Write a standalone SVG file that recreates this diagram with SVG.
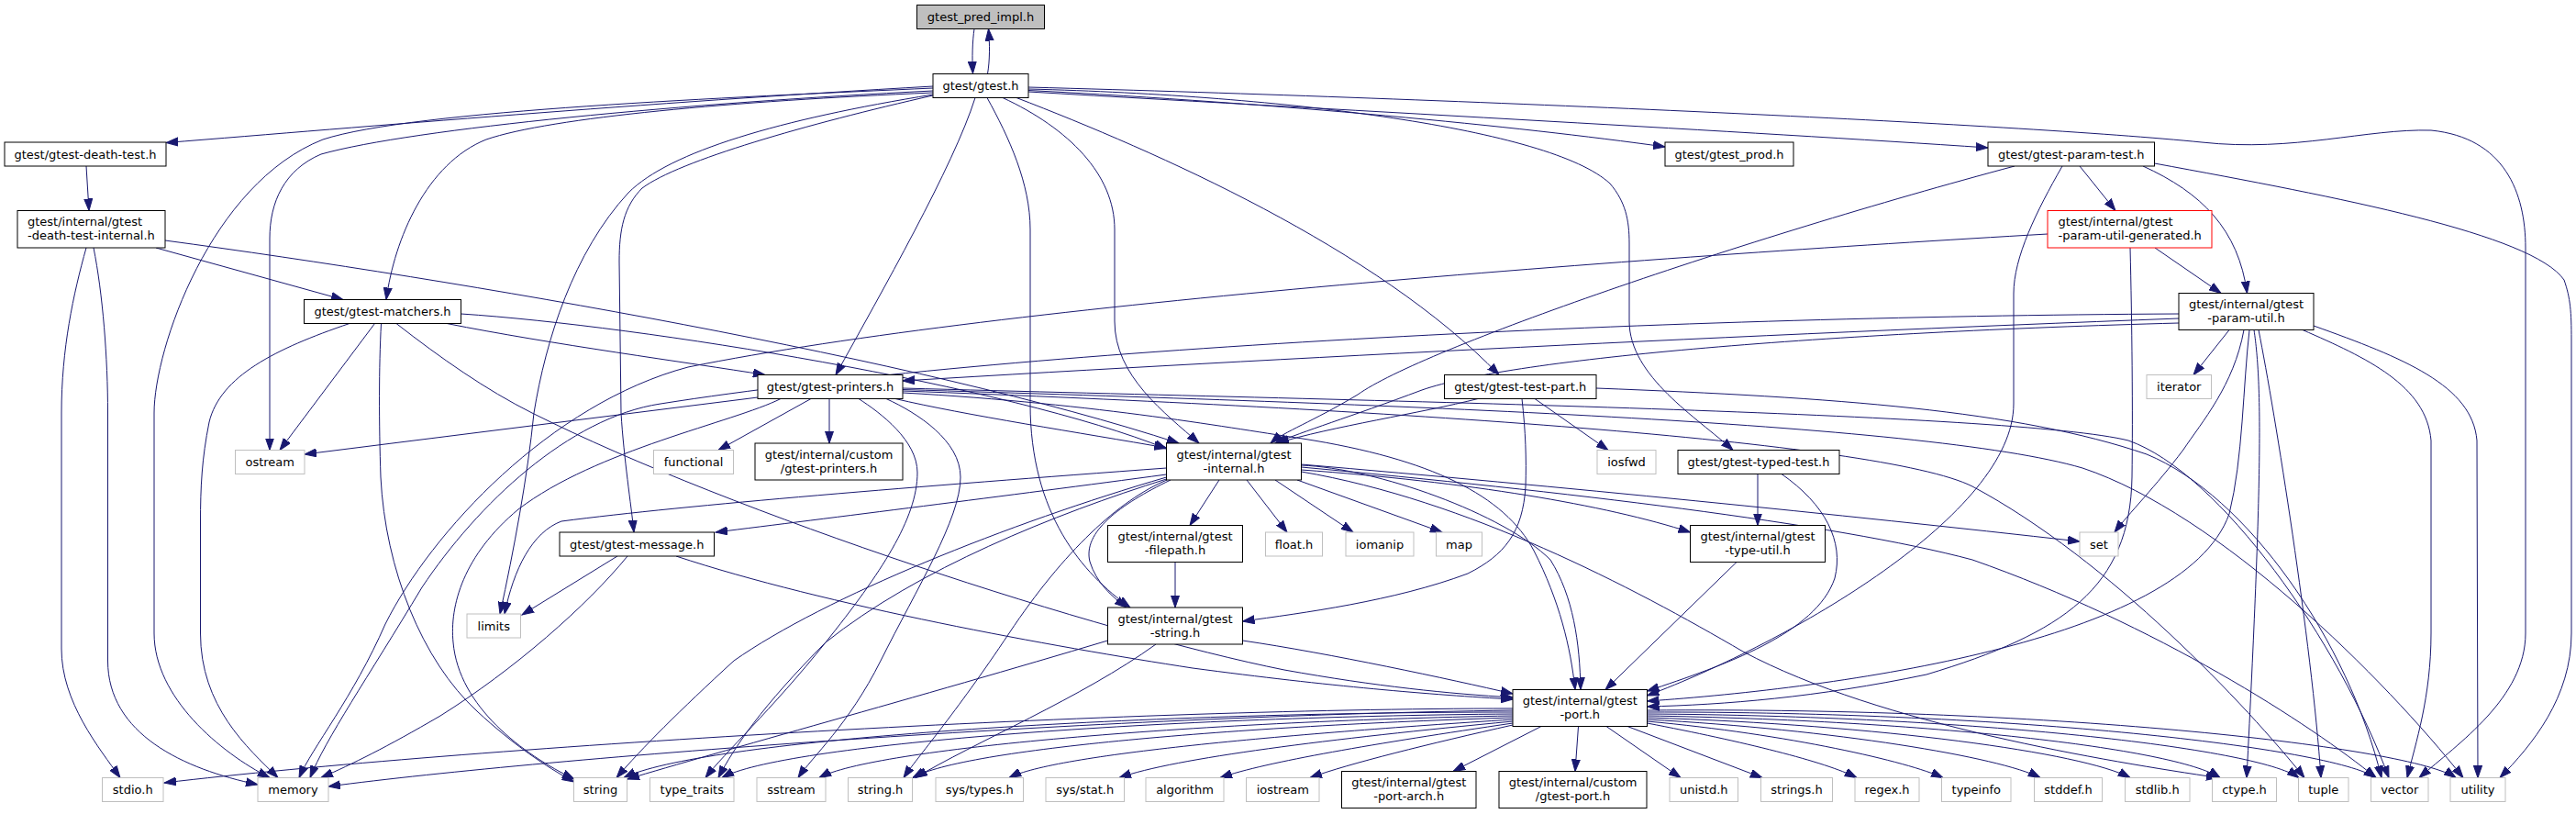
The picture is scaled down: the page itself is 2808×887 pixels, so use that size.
<svg xmlns="http://www.w3.org/2000/svg" width="2808" height="887" viewBox="0 0 2808 887">
<defs>
<marker id="a" markerWidth="14" markerHeight="10" refX="13" refY="5" orient="auto" markerUnits="userSpaceOnUse"><path d="M0,0.5 L13,5 L0,9.5 z" fill="#191970" stroke="#191970" stroke-width="1"/></marker>
</defs>
<style>
.n rect{fill:#fff;stroke:#000;stroke-width:1}
.x rect{fill:#fff;stroke:#bfbfbf;stroke-width:1}
.rt rect{fill:#bfbfbf;stroke:#000;stroke-width:1}
.rd rect{fill:#fff;stroke:#ff0000;stroke-width:1}
text{font-family:"DejaVu Sans","Liberation Sans",sans-serif;font-size:13px;fill:#000;text-anchor:middle}
text.l{text-anchor:start}
#edges path{fill:none;stroke:#191970;stroke-width:1;marker-end:url(#a)}
</style>
<rect width="2808" height="887" fill="#fff"/>
<g id="edges">
<path d="M1062,31.5 C1060,45 1059.5,62 1060.5,80"/>
<path d="M1076.5,80.5 C1079,66 1079,48 1077.5,31.5"/>
<path d="M1017,94 C700,112 400,138 181,155.5"/>
<path d="M1017,96 C800,106 450,120 352,152 C230,200 168,380 168,450 L168,690 C168,760 240,820 294,847.5"/>
<path d="M1017,99 C750,112 450,140 350,168 C310,185 294,220 294,260 L294,490.5"/>
<path d="M1017,101 C800,110 600,128 530,152 C465,178 430,260 421,326.5"/>
<path d="M1017,103 C850,130 730,165 685,210 C625,275 595,370 582,450 C575,520 560,600 545,669"/>
<path d="M1017,104 C880,135 740,175 700,205 C680,225 675,250 675,285 L677,450 C680,500 688,550 691,580"/>
<path d="M1063,106.5 C1040,180 960,320 911,408.5"/>
<path d="M1076,106.5 C1100,150 1123,200 1123,250 L1123,440 C1123,560 1180,625 1232,662"/>
<path d="M1093,106.5 C1165,140 1215,190 1215,250 L1215,350 C1215,410 1270,450 1307,483"/>
<path d="M1108,106.5 C1260,165 1500,270 1634,408.5"/>
<path d="M1121,97 C1400,104 1690,140 1755,200 C1772,220 1776,240 1776,265 L1776,350 C1776,410 1850,455 1889,490.5"/>
<path d="M1121,98.5 C1400,113 1650,137 1815,160"/>
<path d="M1121,100 C1500,122 1900,143 2167,161"/>
<path d="M1121,95 C1600,108 2200,135 2400,155 C2500,166 2580,140 2650,142 C2730,150 2753,210 2753,270 L2753,690 C2753,760 2680,810 2637,847.5"/>
<path d="M94,181 L97,229.5"/>
<path d="M170,270 L374,326.5"/>
<path d="M180,262 C500,305 1000,390 1285,483"/>
<path d="M94,270 C80,320 67,380 67,450 L67,707 C67,765 108,815 131,847.5"/>
<path d="M102,270 C112,320 117.5,390 117.5,450 L117.5,720 C117.5,800 200,838 281,855"/>
<path d="M487,352.5 C600,375 750,395 834,408.5"/>
<path d="M502.5,342 C700,355 1100,420 1271.5,489"/>
<path d="M432,352.5 C480,390 530,425 580,450 C800,560 1200,690 1400,730 C1500,748 1580,756 1649,760"/>
<path d="M381,352.5 C300,380 240,410 228,460 C220,500 218.5,530 218.5,570 L218.5,690 C218.5,770 270,815 303,847.5"/>
<path d="M408.5,352.5 L305,490.5"/>
<path d="M415.5,352.5 C413,400 413,460 415,520 C420,620 460,720 520,775 C560,812 595,835 625.5,852"/>
<path d="M826,433 L332,495"/>
<path d="M851,434.5 C800,460 650,490 565,555 C505,605 490,660 494,700 C500,770 570,822 626,849"/>
<path d="M884,434.5 L783,490.5"/>
<path d="M904,434.5 L904,483"/>
<path d="M936,434.5 C960,450 1000,480 1000,515 C1000,565 960,625 900,700 C840,775 790,820 769,847.5"/>
<path d="M966,434.5 C1000,450 1047,480 1047,520 C1047,565 1000,640 960,720 C925,790 885,825 870,847.5"/>
<path d="M976,434.5 C1050,452 1180,472 1271.5,488"/>
<path d="M984,428 C1200,440 1350,468 1420,478 C1560,500 1640,540 1672,600 C1700,655 1712,705 1717,751.5"/>
<path d="M984,423 C1500,437 2200,450 2320,480 C2420,515 2550,700 2604,847.5"/>
<path d="M984,426 C1500,445 2050,480 2150,530 C2300,610 2450,770 2512,847.5"/>
<path d="M984,424.5 C1500,440 2100,460 2270,510 C2420,560 2600,740 2685,847.5"/>
<path d="M1611,434.5 C1550,450 1450,465 1392,483"/>
<path d="M1659,434.5 C1663,470 1664,500 1663,530 C1660,580 1640,605 1600,625 C1520,655 1420,668 1354.5,677"/>
<path d="M1673,434.5 L1753,490.5"/>
<path d="M1740,423 C2000,433 2200,447 2340,495 C2450,540 2560,700 2596,847.5"/>
<path d="M673,606 L569,670"/>
<path d="M684,606 C640,660 560,730 480,780 C420,815 385,832 350,847.5"/>
<path d="M737,606 C900,660 1150,705 1300,728 C1450,748 1560,757 1649,762"/>
<path d="M1271.5,517 C1100,540 900,565 780,580"/>
<path d="M1271.5,510 C1000,530 750,550 612,568 C580,580 560,620 550,669"/>
<path d="M1329,523 L1297,572.5"/>
<path d="M1276,523 C1220,550 1180,580 1188,612 C1195,635 1212,650 1228,662"/>
<path d="M1359,523 L1403,580"/>
<path d="M1390,523 L1475,580"/>
<path d="M1414,523 L1572,580"/>
<path d="M1418.5,506 C1700,530 2000,560 2267,590"/>
<path d="M1418.5,512 C1600,525 1750,550 1842.5,580"/>
<path d="M1418.5,507 C1500,510 1640,560 1690,610 C1715,650 1722,700 1723,751.5"/>
<path d="M1271.5,520 C1100,570 900,650 800,720 C740,775 700,815 672,847.5"/>
<path d="M1271.5,522 C1150,560 1000,620 900,700 C830,770 800,815 783,847.5"/>
<path d="M1272,523 C1220,545 1160,600 1100,690 C1040,780 1000,825 985,847.5"/>
<path d="M1418.5,514 C1600,545 1780,640 1900,710 C2050,790 2300,830 2418,847.5"/>
<path d="M1418.5,509 C1700,535 2000,570 2150,610 C2350,680 2520,790 2590,847.5"/>
<path d="M1281,612.5 L1281,662"/>
<path d="M1354.5,698 C1450,712 1580,740 1649,756"/>
<path d="M1207.5,698 C1000,760 780,820 684,849"/>
<path d="M1260,702 C1180,760 1060,810 998,847.5"/>
<path d="M1916,516.5 L1916,572.5"/>
<path d="M1942,516.5 C1990,550 2010,590 2000,630 C1980,690 1880,725 1795.5,753"/>
<path d="M1893,612.5 L1750,751.5"/>
<path d="M2196,181 C1900,260 1550,380 1480,430 C1430,460 1400,470 1385,483"/>
<path d="M2248,181 C2220,230 2195,280 2195,320 L2195,440 C2195,560 1950,700 1795.5,758"/>
<path d="M2267,181 L2306,229.5"/>
<path d="M2336,181 C2400,210 2440,250 2449.5,319.5"/>
<path d="M2348.5,178 C2550,215 2760,255 2795,305 C2802,325 2803,340 2803,370 L2803,690 C2803,760 2760,812 2725,847.5"/>
<path d="M2232,255 C1800,280 1100,330 750,400 C600,440 470,580 420,680 C385,760 340,815 326,847.5"/>
<path d="M2349,270 L2421,319.5"/>
<path d="M2322,270 C2324,350 2325,450 2324,520 C2322,640 2250,690 2100,735 C1980,760 1880,768 1795.5,770"/>
<path d="M2375,347 C1900,365 1400,390 984,415"/>
<path d="M2375,342 C1800,345 1100,380 720,440 C620,455 520,550 460,640 C400,740 355,805 338,847.5"/>
<path d="M2375,352 C2000,362 1650,390 1550,425 C1470,455 1420,470 1390,483"/>
<path d="M2452,359.5 C2445,420 2445,500 2430,560 C2380,700 2000,750 1795.5,764"/>
<path d="M2430,359.5 L2391,408.5"/>
<path d="M2446,359.5 C2435,420 2400,460 2380,490 C2350,530 2320,560 2305,580"/>
<path d="M2457,359.5 C2466,420 2466,520 2449,847.5"/>
<path d="M2462,359.5 C2480,450 2520,700 2530,847.5"/>
<path d="M2510,359.5 C2580,390 2645,420 2650,480 L2650,690 C2650,760 2633,810 2624,847.5"/>
<path d="M2522,355 C2620,390 2695,420 2700,480 L2701,847.5"/>
<path d="M1649,772 C1200,772 500,815 179,853"/>
<path d="M1649,774 C1200,780 600,825 358,857"/>
<path d="M1649,776 C1200,776 760,808 680,847.5"/>
<path d="M1649,778 C1250,781 850,812 787,847.5"/>
<path d="M1649,780 C1300,786 950,816 893,847.5"/>
<path d="M1649,782 C1350,791 1050,816 995,847.5"/>
<path d="M1649,784 C1400,800 1150,822 1100,847.5"/>
<path d="M1649,786 C1450,805 1280,826 1220,847.5"/>
<path d="M1649,788 C1500,810 1380,830 1330,847.5"/>
<path d="M1649,790 C1560,810 1470,832 1428,847.5"/>
<path d="M1680,791.5 L1584,840.5"/>
<path d="M1720.5,791.5 L1717,840.5"/>
<path d="M1751,791.5 L1832,847.5"/>
<path d="M1774,791.5 L1921,847.5"/>
<path d="M1795.5,788 C1900,808 1990,830 2024,847.5"/>
<path d="M1795.5,786 C1950,800 2080,830 2118,847.5"/>
<path d="M1795.5,784 C2000,795 2180,825 2224,847.5"/>
<path d="M1795.5,782 C2050,790 2270,820 2322,847.5"/>
<path d="M1795.5,780 C2100,785 2370,815 2420,847.5"/>
<path d="M1795.5,778 C2150,780 2460,815 2506,847.5"/>
<path d="M1795.5,776 C2200,775 2540,815 2590,847.5"/>
<path d="M1795.5,774 C2250,770 2630,815 2677,847.5"/>
</g>
<g id="n_root" class="rt"><rect x="999.5" y="5.5" width="139" height="26"/><text x="1069" y="23">gtest_pred_impl.h</text></g>
<g id="n_gtest" class="n"><rect x="1017" y="80.5" width="104" height="26"/><text x="1069" y="98">gtest/gtest.h</text></g>
<g id="n_death" class="n"><rect x="5" y="155" width="176" height="26"/><text x="93" y="172.5">gtest/gtest-death-test.h</text></g>
<g id="n_prod" class="n"><rect x="1815" y="155" width="140" height="26"/><text x="1885" y="172.5">gtest/gtest_prod.h</text></g>
<g id="n_paramtest" class="n"><rect x="2167" y="155" width="181.5" height="26"/><text x="2257.75" y="172.5">gtest/gtest-param-test.h</text></g>
<g id="n_dti" class="n"><rect x="19" y="229.5" width="161" height="40.5"/><text class="l" x="30" y="246">gtest/internal/gtest</text><text class="l" x="30" y="261">-death-test-internal.h</text></g>
<g id="n_pug" class="rd"><rect x="2232" y="229.5" width="179" height="40.5"/><text class="l" x="2243.5" y="246">gtest/internal/gtest</text><text class="l" x="2243.5" y="261">-param-util-generated.h</text></g>
<g id="n_pu" class="n"><rect x="2375" y="319.5" width="147" height="40"/><text x="2448.5" y="336">gtest/internal/gtest</text><text x="2448.5" y="351">-param-util.h</text></g>
<g id="n_matchers" class="n"><rect x="331.5" y="326.5" width="171" height="26"/><text x="417" y="344">gtest/gtest-matchers.h</text></g>
<g id="n_printers" class="n"><rect x="826" y="408.5" width="158" height="26"/><text x="905" y="426">gtest/gtest-printers.h</text></g>
<g id="n_testpart" class="n"><rect x="1574.5" y="408.5" width="165.5" height="26"/><text x="1657.25" y="426">gtest/gtest-test-part.h</text></g>
<g id="n_iterator" class="x"><rect x="2340" y="408.5" width="70.5" height="26"/><text x="2375.25" y="426">iterator</text></g>
<g id="n_ostream" class="x"><rect x="256.5" y="490.5" width="75.5" height="26"/><text x="294.25" y="508">ostream</text></g>
<g id="n_functional" class="x"><rect x="712.5" y="490.5" width="87" height="26"/><text x="756" y="508">functional</text></g>
<g id="n_cprinters" class="n"><rect x="823" y="483" width="161" height="40"/><text x="903.5" y="499.5">gtest/internal/custom</text><text x="903.5" y="514.5">/gtest-printers.h</text></g>
<g id="n_internal" class="n"><rect x="1271.5" y="483" width="147" height="40"/><text x="1345" y="499.5">gtest/internal/gtest</text><text x="1345" y="514.5">-internal.h</text></g>
<g id="n_iosfwd" class="x"><rect x="1741" y="490.5" width="64" height="26"/><text x="1773" y="508">iosfwd</text></g>
<g id="n_typed" class="n"><rect x="1829" y="490.5" width="176" height="26"/><text x="1917" y="508">gtest/gtest-typed-test.h</text></g>
<g id="n_message" class="n"><rect x="610" y="580" width="168.5" height="26"/><text x="694.25" y="597.5">gtest/gtest-message.h</text></g>
<g id="n_filepath" class="n"><rect x="1207.5" y="572.5" width="147" height="40"/><text x="1281" y="589">gtest/internal/gtest</text><text x="1281" y="604">-filepath.h</text></g>
<g id="n_float" class="x"><rect x="1379.5" y="580" width="62" height="26"/><text x="1410.5" y="597.5">float.h</text></g>
<g id="n_iomanip" class="x"><rect x="1467" y="580" width="74" height="26"/><text x="1504" y="597.5">iomanip</text></g>
<g id="n_map" class="x"><rect x="1565.5" y="580" width="50" height="26"/><text x="1590.5" y="597.5">map</text></g>
<g id="n_set" class="x"><rect x="2267" y="580" width="42" height="26"/><text x="2288" y="597.5">set</text></g>
<g id="n_typeutil" class="n"><rect x="1842.5" y="572.5" width="147" height="40"/><text x="1916" y="589">gtest/internal/gtest</text><text x="1916" y="604">-type-util.h</text></g>
<g id="n_limits" class="x"><rect x="509" y="669" width="58.5" height="26"/><text x="538.25" y="686.5">limits</text></g>
<g id="n_gstring" class="n"><rect x="1207.5" y="662" width="147" height="40"/><text x="1281" y="678.5">gtest/internal/gtest</text><text x="1281" y="693.5">-string.h</text></g>
<g id="n_port" class="n"><rect x="1649" y="751.5" width="146.5" height="40"/><text x="1722.25" y="768">gtest/internal/gtest</text><text x="1722.25" y="783">-port.h</text></g>
<g id="n_stdio" class="x"><rect x="111.5" y="847.5" width="66.5" height="26"/><text x="144.75" y="865">stdio.h</text></g>
<g id="n_memory" class="x"><rect x="281" y="847.5" width="77" height="26"/><text x="319.5" y="865">memory</text></g>
<g id="n_string" class="x"><rect x="625.5" y="847.5" width="58" height="26"/><text x="654.5" y="865">string</text></g>
<g id="n_typetraits" class="x"><rect x="708.5" y="847.5" width="91.5" height="26"/><text x="754.25" y="865">type_traits</text></g>
<g id="n_sstream" class="x"><rect x="825" y="847.5" width="75" height="26"/><text x="862.5" y="865">sstream</text></g>
<g id="n_stringh" class="x"><rect x="924.5" y="847.5" width="70" height="26"/><text x="959.5" y="865">string.h</text></g>
<g id="n_systypes" class="x"><rect x="1020" y="847.5" width="95.5" height="26"/><text x="1067.75" y="865">sys/types.h</text></g>
<g id="n_sysstat" class="x"><rect x="1140" y="847.5" width="85.5" height="26"/><text x="1182.75" y="865">sys/stat.h</text></g>
<g id="n_algorithm" class="x"><rect x="1249" y="847.5" width="85" height="26"/><text x="1291.5" y="865">algorithm</text></g>
<g id="n_iostream" class="x"><rect x="1358.5" y="847.5" width="79.5" height="26"/><text x="1398.25" y="865">iostream</text></g>
<g id="n_portarch" class="n"><rect x="1462.5" y="840.5" width="146.5" height="40"/><text x="1535.75" y="857">gtest/internal/gtest</text><text x="1535.75" y="872">-port-arch.h</text></g>
<g id="n_cport" class="n"><rect x="1634" y="840.5" width="161" height="40"/><text x="1714.5" y="857">gtest/internal/custom</text><text x="1714.5" y="872">/gtest-port.h</text></g>
<g id="n_unistd" class="x"><rect x="1820" y="847.5" width="74.5" height="26"/><text x="1857.25" y="865">unistd.h</text></g>
<g id="n_strings" class="x"><rect x="1919.5" y="847.5" width="78" height="26"/><text x="1958.5" y="865">strings.h</text></g>
<g id="n_regex" class="x"><rect x="2022" y="847.5" width="70" height="26"/><text x="2057" y="865">regex.h</text></g>
<g id="n_typeinfo" class="x"><rect x="2116.5" y="847.5" width="75.5" height="26"/><text x="2154.25" y="865">typeinfo</text></g>
<g id="n_stddef" class="x"><rect x="2217.5" y="847.5" width="74" height="26"/><text x="2254.5" y="865">stddef.h</text></g>
<g id="n_stdlib" class="x"><rect x="2316.5" y="847.5" width="70.5" height="26"/><text x="2351.75" y="865">stdlib.h</text></g>
<g id="n_ctype" class="x"><rect x="2411.5" y="847.5" width="70" height="26"/><text x="2446.5" y="865">ctype.h</text></g>
<g id="n_tuple" class="x"><rect x="2505.5" y="847.5" width="54.5" height="26"/><text x="2532.75" y="865">tuple</text></g>
<g id="n_vector" class="x"><rect x="2584.5" y="847.5" width="62.5" height="26"/><text x="2615.75" y="865">vector</text></g>
<g id="n_utility" class="x"><rect x="2671" y="847.5" width="60" height="26"/><text x="2701" y="865">utility</text></g>
</svg>
